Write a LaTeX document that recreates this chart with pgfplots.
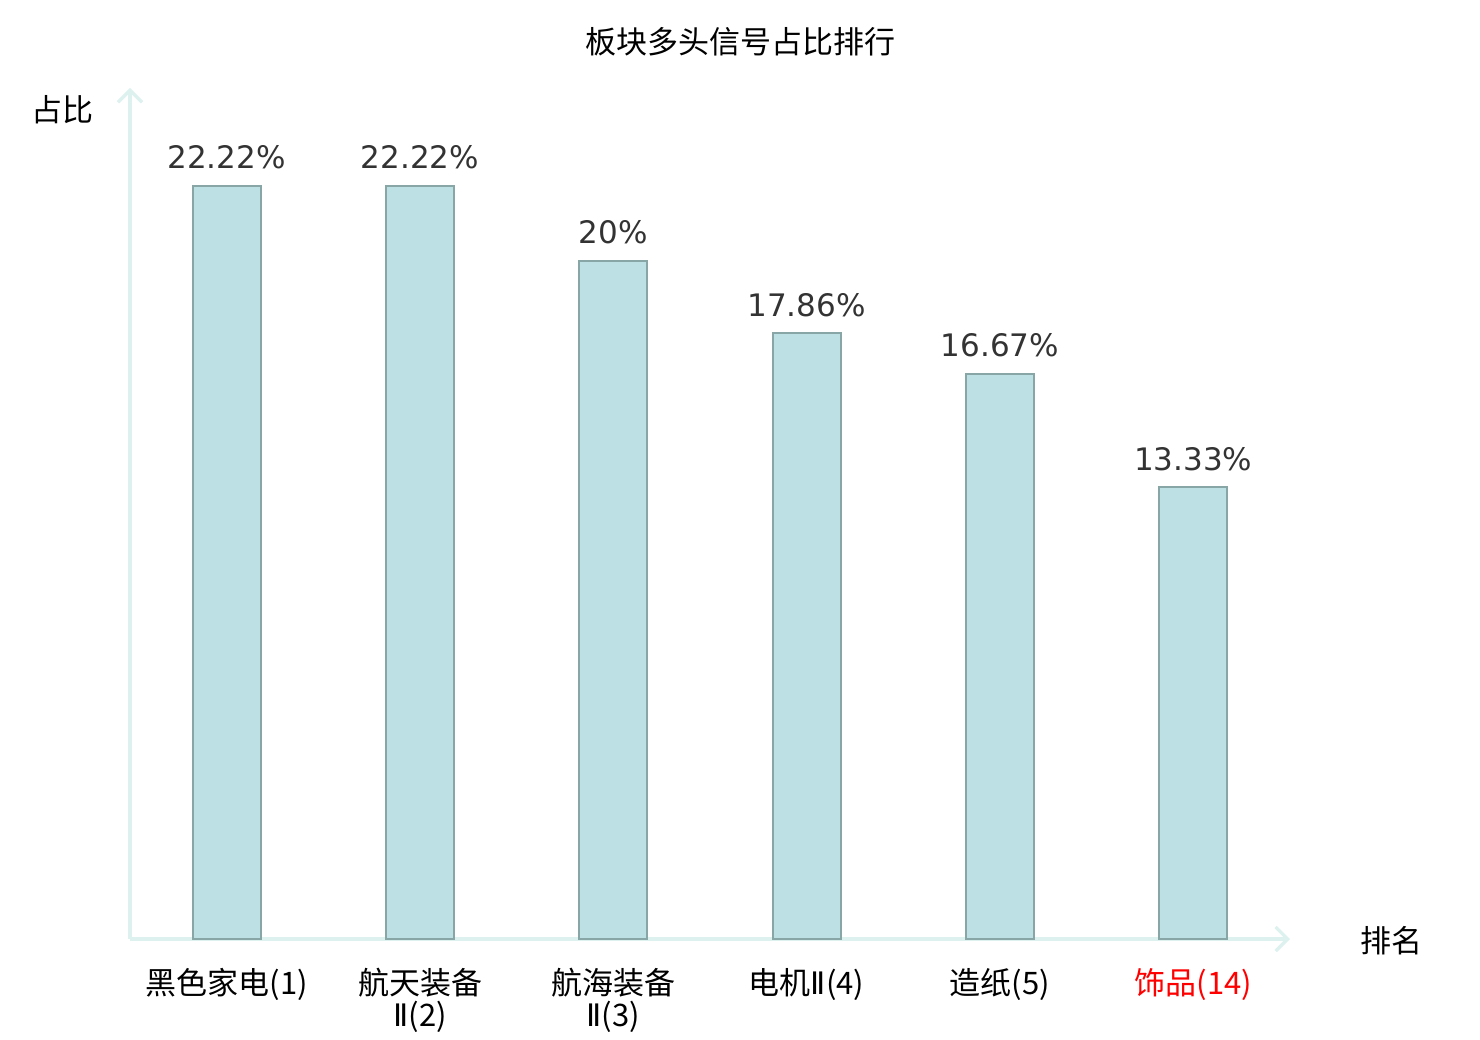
\documentclass[border=0pt]{standalone}
\usepackage{fontspec}
\setmainfont{Noto Sans CJK SC}
\newfontfamily\dejavu{DejaVu Sans}
\usepackage{pgfplots}
\pgfplotsset{compat=1.18}
\usetikzlibrary{arrows.meta}
\definecolor{barfill}{HTML}{BCE0E3}
\definecolor{baredge}{HTML}{89A6A7}
\definecolor{axiscol}{HTML}{DDF1EE}
\definecolor{valcol}{HTML}{333333}
\newcommand{\RII}{{\dejavu Ⅱ}}
\begin{document}
\begin{tikzpicture}
\useasboundingbox (0,0) rectangle (740pt,520pt);
\begin{axis}[
  at={(65pt,50.5pt)}, anchor=south west,
  scale only axis, width=580pt, height=425.5pt,
  xmin=-0.5, xmax=5.5, ymin=0, ymax=25.1,
  axis lines=left,
  axis line style={color=axiscol, line width=1.6pt, -{Straight Barb[length=6pt,width=12pt,line width=1.6pt]}},
  xtick={0,1,2,3,4,5},
  xticklabels={黑色家电(1),航天装备\\\RII(2),航海装备\\\RII(3),电机\RII(4),造纸(5),\textcolor{red}{饰品(14)}},
  xticklabel style={align=center, anchor=north, inner sep=0pt, yshift=-14.5pt, font=\fontsize{15.5pt}{16pt}\selectfont},
  major tick length=0pt,
  ytick=\empty,
  clip=false,
  /pgf/number format/assume math mode=true,
  nodes near coords={\pgfmathprintnumber[fixed,precision=2]{\pgfplotspointmeta}\%},
  every node near coord/.append style={font=\dejavu\fontsize{15.5pt}{18pt}\selectfont, color=valcol, anchor=base, inner sep=0pt, yshift=8.5pt},
]
\addplot[ybar, bar width=34pt, fill=barfill, draw=baredge, line width=1pt] coordinates {
 (0,22.22) (1,22.22) (2,20) (3,17.86) (4,16.67) (5,13.33)
};
\end{axis}
\node[font=\fontsize{15.5pt}{16pt}\selectfont] at (370pt,499pt) {板块多头信号占比排行};
\node[font=\fontsize{15.5pt}{16pt}\selectfont] at (31.5pt,465pt) {占比};
\node[font=\fontsize{15.5pt}{16pt}\selectfont] at (695.5pt,49.5pt) {排名};
\end{tikzpicture}
\end{document}
